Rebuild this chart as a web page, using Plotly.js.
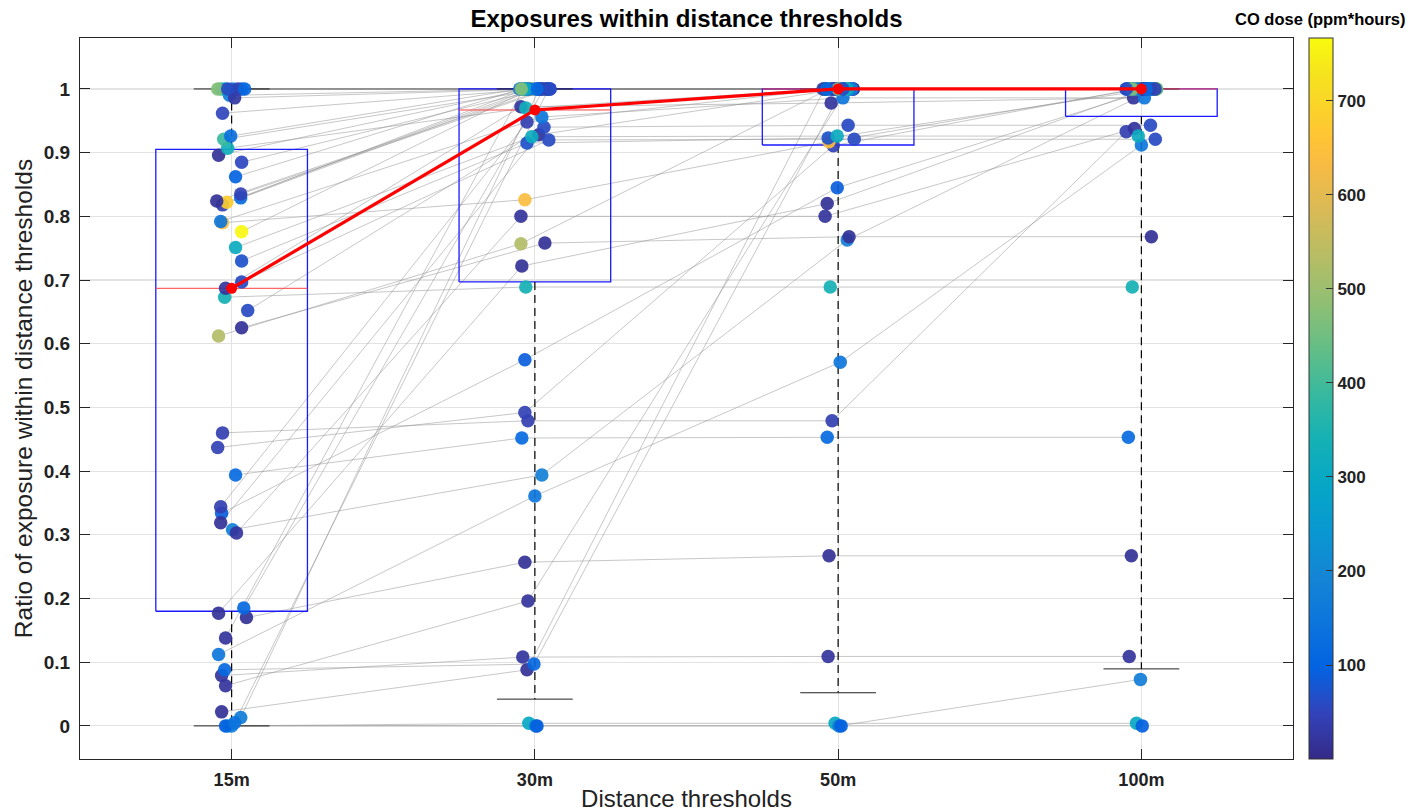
<!DOCTYPE html>
<html>
<head>
<meta charset="utf-8">
<script src="https://cdn.plot.ly/plotly-3.0.1.min.js"></script>
<style>html,body{margin:0;padding:0;background:#fff;}#chart{width:1417px;height:812px;}</style>
</head>
<body>
<div id="chart"></div>
<script>
// ---- data ----
const categories = ['15m', '30m', '50m', '100m'];
const dose = [300,170,95,20,15,110,20,15,150,180,115,40,45,90,170,140,20,15,110,20,15,40,530,640,340,15,60,20,60,70,310,760,150,40,680,15,120,45,100,55,15,330,390,130,50,420,150,130,170,25,300,40,470,110,60];
const r15 = [0,0,0,0.079,0.022,0.088,0.063,0.170,0.112,0.308,0.394,0.460,0.437,0.334,0.013,0.005,0.138,0.177,0.185,0.303,0.319,0.344,0.612,0.790,0.673,0.625,0.652,0.687,0.697,0.730,0.751,0.776,0.792,0.818,0.822,0.824,0.829,0.835,0.862,0.885,0.896,0.907,0.921,0.926,0.962,1,1,1,0.990,0.986,1,1,1,1,1];
const r30 = [0.004,0,0,0.108,0.088,0.097,0.196,0.257,0.361,0.394,0.452,0.479,0.492,0.575,1,1,1,0.722,1,0.800,0.928,0.948,0.757,0.826,0.689,0.758,0.940,0.972,0.920,0.915,0.925,1,0.956,1,1,1,1,1,1,1,1,0.970,1,1,1,1,1,1,1,1,1,1,1,1,1];
const r50 = [0.004,0,0,0.109,1,1,1,0.267,0.571,0.763,0.453,0.479,0.911,0.845,1,1,1,0.820,1,0.800,1,1,1,0.917,0.689,0.768,0.943,0.978,0.921,0.923,0.926,1,0.986,1,1,1,1,1,1,1,1,1,1,1,1,1,1,1,1,1,1,1,1,1,1];
const r100 = [0.004,0.073,0,0.109,1,1,1,0.267,0.912,1,0.453,0.933,1,1,1,1,1,1,1,0.938,1,1,1,1,0.689,0.768,0.943,0.986,0.921,1,0.926,1,0.986,1,1,1,1,1,1,1,1,1,1,1,1,1,1,1,1,1,1,1,1,1,1];
// horizontal jitter (category units)
const jit15 = [-0.013,0,-0.02,-0.033,-0.033,-0.023,-0.02,0.049,-0.043,0.003,0.013,-0.03,-0.046,-0.033,0.03,0.01,-0.02,-0.043,0.04,0.016,-0.036,-0.036,-0.043,-0.03,-0.023,0.033,0.053,-0.02,0.033,0.033,0.013,0.033,-0.036,-0.03,-0.016,-0.049,0.03,0.03,0.013,0.033,-0.043,-0.013,-0.026,-0.003,-0.03,-0.036,0.003,0.033,-0.007,0.01,-0.023,0.02,-0.046,0.043,-0.013];
const jit30 = [-0.02,0.003,0.007,-0.04,-0.026,-0.003,-0.023,-0.033,0,0.023,-0.043,-0.023,-0.033,-0.033,0.015,0.045,-0.038,-0.043,0.03,-0.046,0.013,-0.026,-0.046,-0.033,-0.03,0.033,0.03,-0.046,0.046,-0.026,-0.01,-0.015,0.023,0.008,-0.008,0.038,-0.03,0.05,-0.045,0.022,-0.022,-0.03,0.03,-0.05,0.015,-0.038,0,0.045,-0.015,0.038,-0.03,0.022,-0.045,0.008,0.05];
const jit50 = [-0.01,0.003,0.01,-0.033,-0.045,0.015,0.03,-0.03,0.007,0.03,-0.036,-0.02,-0.016,-0.003,-0.038,0.022,-0.008,-0.036,0.05,-0.043,0.008,-0.022,-0.03,-0.03,-0.026,0.036,0.033,-0.023,0.053,-0.033,-0.003,0.038,0.016,-0.05,0.03,-0.015,0.045,0,-0.038,0.015,0.05,-0.03,-0.045,0.022,-0.022,0.008,0.038,-0.008,0.045,-0.045,0.03,-0.015,0,-0.038,0.015];
const jit100 = [-0.016,-0.003,0.003,-0.04,0.02,-0.038,0.008,-0.033,0,0.045,-0.043,-0.05,-0.022,0.038,-0.008,0.03,-0.045,0.015,-0.03,-0.023,0.022,-0.015,0.05,-0.008,-0.03,0.033,0.03,-0.026,0.046,0.038,-0.01,-0.022,0.01,0.045,-0.038,0.008,-0.05,0.03,0.015,-0.03,0,0.038,-0.015,0.022,-0.045,0.05,-0.008,0.03,-0.022,0.008,-0.038,0.045,-0.03,0.015,-0.05];
// box statistics
const boxQ1 = [0.180, 0.697, 0.912, 0.957];
const boxMedian = [0.687, 0.967, 1.0, 1.0];
const boxQ3 = [0.905, 1.0, 1.0, 1.0];
const whiskerLow = [0, 0.042, 0.052, 0.0895];
const whiskerHigh = [1, 1, 1, 1];

// ---- build ----
const FONT = 'Liberation Sans, Arial, sans-serif';
const ratios = [r15, r30, r50, r100];
const jits = [jit15, jit30, jit50, jit100];
const pos = categories.map((c, k) => k + 1);
const n = dose.length;

const lx = [], ly = [];
for (let i = 0; i < n; i++) {
  for (let k = 0; k < 4; k++) { lx.push(pos[k] + jits[k][i]); ly.push(ratios[k][i]); }
  lx.push(null); ly.push(null);
}

const bx = [], by = [], wx = [], wy = [], cx = [], cy = [], mx = [], my = [];
const hw = 0.25, cw = 0.125;
for (let k = 0; k < 4; k++) {
  const p = pos[k];
  bx.push(p - hw, p + hw, p + hw, p - hw, p - hw, null);
  by.push(boxQ1[k], boxQ1[k], boxQ3[k], boxQ3[k], boxQ1[k], null);
  mx.push(p - hw, p + hw, null); my.push(boxMedian[k], boxMedian[k], null);
  wx.push(p, p, null, p, p, null);
  wy.push(boxQ1[k], whiskerLow[k], null, boxQ3[k], whiskerHigh[k], null);
  cx.push(p - cw, p + cw, null, p - cw, p + cw, null);
  cy.push(whiskerLow[k], whiskerLow[k], null, whiskerHigh[k], whiskerHigh[k], null);
}

const px = [], py = [], pc = [];
for (let k = 0; k < 4; k++) {
  for (let i = 0; i < n; i++) { px.push(pos[k] + jits[k][i]); py.push(ratios[k][i]); pc.push(dose[i]); }
}

const parula = [
  [0, '#352a87'], [0.0635, '#3243ba'], [0.127, '#0363e1'], [0.19, '#0d75dc'],
  [0.254, '#1485d4'], [0.317, '#0998d1'], [0.381, '#06a7c6'], [0.444, '#15b1b4'],
  [0.508, '#38b99e'], [0.571, '#65be86'], [0.635, '#92bf73'], [0.698, '#b7bd64'],
  [0.762, '#d9ba56'], [0.825, '#f8bb44'], [0.857, '#ffc337'], [0.889, '#fcce2e'],
  [0.952, '#f5e41d'], [1, '#f9fb0e']
];

const traces = [
  {type: 'scatter', mode: 'lines', x: lx, y: ly, line: {color: 'rgba(140,140,140,0.62)', width: 0.8}, hoverinfo: 'skip', showlegend: false, connectgaps: false},
  {type: 'scatter', mode: 'lines', x: bx, y: by, line: {color: '#1a1aff', width: 1.3}, hoverinfo: 'skip', showlegend: false},
  {type: 'scatter', mode: 'lines', x: wx, y: wy, line: {color: '#000000', width: 1.2, dash: '8px,5px'}, hoverinfo: 'skip', showlegend: false},
  {type: 'scatter', mode: 'lines', x: cx, y: cy, line: {color: '#222222', width: 1}, hoverinfo: 'skip', showlegend: false},
  {type: 'scatter', mode: 'lines', x: mx, y: my, line: {color: '#ff4040', width: 1}, hoverinfo: 'skip', showlegend: false},
  {type: 'scatter', mode: 'markers', x: px, y: py, showlegend: false,
    marker: {size: 13.5, color: pc, colorscale: parula, cmin: 0, cmax: 767, opacity: 0.92, line: {width: 0},
      showscale: true,
      colorbar: {x: 1.0132, xanchor: 'left', xpad: 0, ypad: 0, y: 0.5, yanchor: 'middle', len: 1, lenmode: 'fraction',
        thickness: 24, thicknessmode: 'pixels', outlinewidth: 1, outlinecolor: '#333',
        ticks: 'inside', ticklen: 7, tickcolor: '#333', tickvals: [100, 200, 300, 400, 500, 600, 700],
        tickfont: {family: FONT, size: 17, color: '#222', weight: 'bold'}}}},
  {type: 'scatter', mode: 'lines+markers', x: pos, y: boxMedian, showlegend: false,
    line: {color: '#ff0000', width: 3.2}, marker: {color: '#ff0000', size: 11, symbol: 'circle'}}
];

const layout = {
  width: 1417, height: 812,
  margin: {l: 80, r: 124, t: 38, b: 53},
  paper_bgcolor: '#ffffff', plot_bgcolor: '#ffffff',
  font: {family: FONT, color: '#222'},
  title: {text: '<b>Exposures within distance thresholds</b>', font: {family: FONT, size: 24, color: '#000'},
    x: 0.5, xref: 'paper', xanchor: 'center', y: 1 - 19 / 812, yref: 'container', yanchor: 'middle'},
  xaxis: {range: [0.5, 4.5], tickvals: pos, ticktext: categories, showgrid: true, gridcolor: '#e3e3e3', gridwidth: 1.2,
    zeroline: false, showline: true, mirror: 'ticks', linecolor: '#262626', linewidth: 1,
    ticks: 'inside', ticklen: 10, tickcolor: '#262626', ticklabelstandoff: 4,
    tickfont: {family: FONT, size: 18, color: '#222', weight: 'bold'},
    title: {text: 'Distance thresholds', font: {family: FONT, size: 24, color: '#222'}, standoff: 1}},
  yaxis: {range: [-0.052, 1.08], tickvals: [0,0.1,0.2,0.3,0.4,0.5,0.6,0.7,0.8,0.9,1], ticktext: ['0','0.1','0.2','0.3','0.4','0.5','0.6','0.7','0.8','0.9','1'],
    showgrid: true, gridcolor: '#e3e3e3', gridwidth: 1.2,
    zeroline: false, showline: true, mirror: 'ticks', linecolor: '#262626', linewidth: 1,
    ticks: 'inside', ticklen: 10, tickcolor: '#262626', ticklabelstandoff: 5,
    tickfont: {family: FONT, size: 19, color: '#222', weight: 'bold'},
    title: {text: 'Ratio of exposure within distance thresholds', font: {family: FONT, size: 24.5, color: '#222'}, standoff: 4}},
  annotations: [
    {text: '<b>CO dose (ppm*hours)</b>', xref: 'paper', yref: 'paper', x: (1320 - 80) / 1213, y: (759 - 19) / 721,
      xanchor: 'center', yanchor: 'middle', showarrow: false, font: {family: FONT, size: 16.5, color: '#000'}}
  ]
};

Plotly.newPlot('chart', traces, layout, {displayModeBar: false, staticPlot: true});
</script>
</body>
</html>
